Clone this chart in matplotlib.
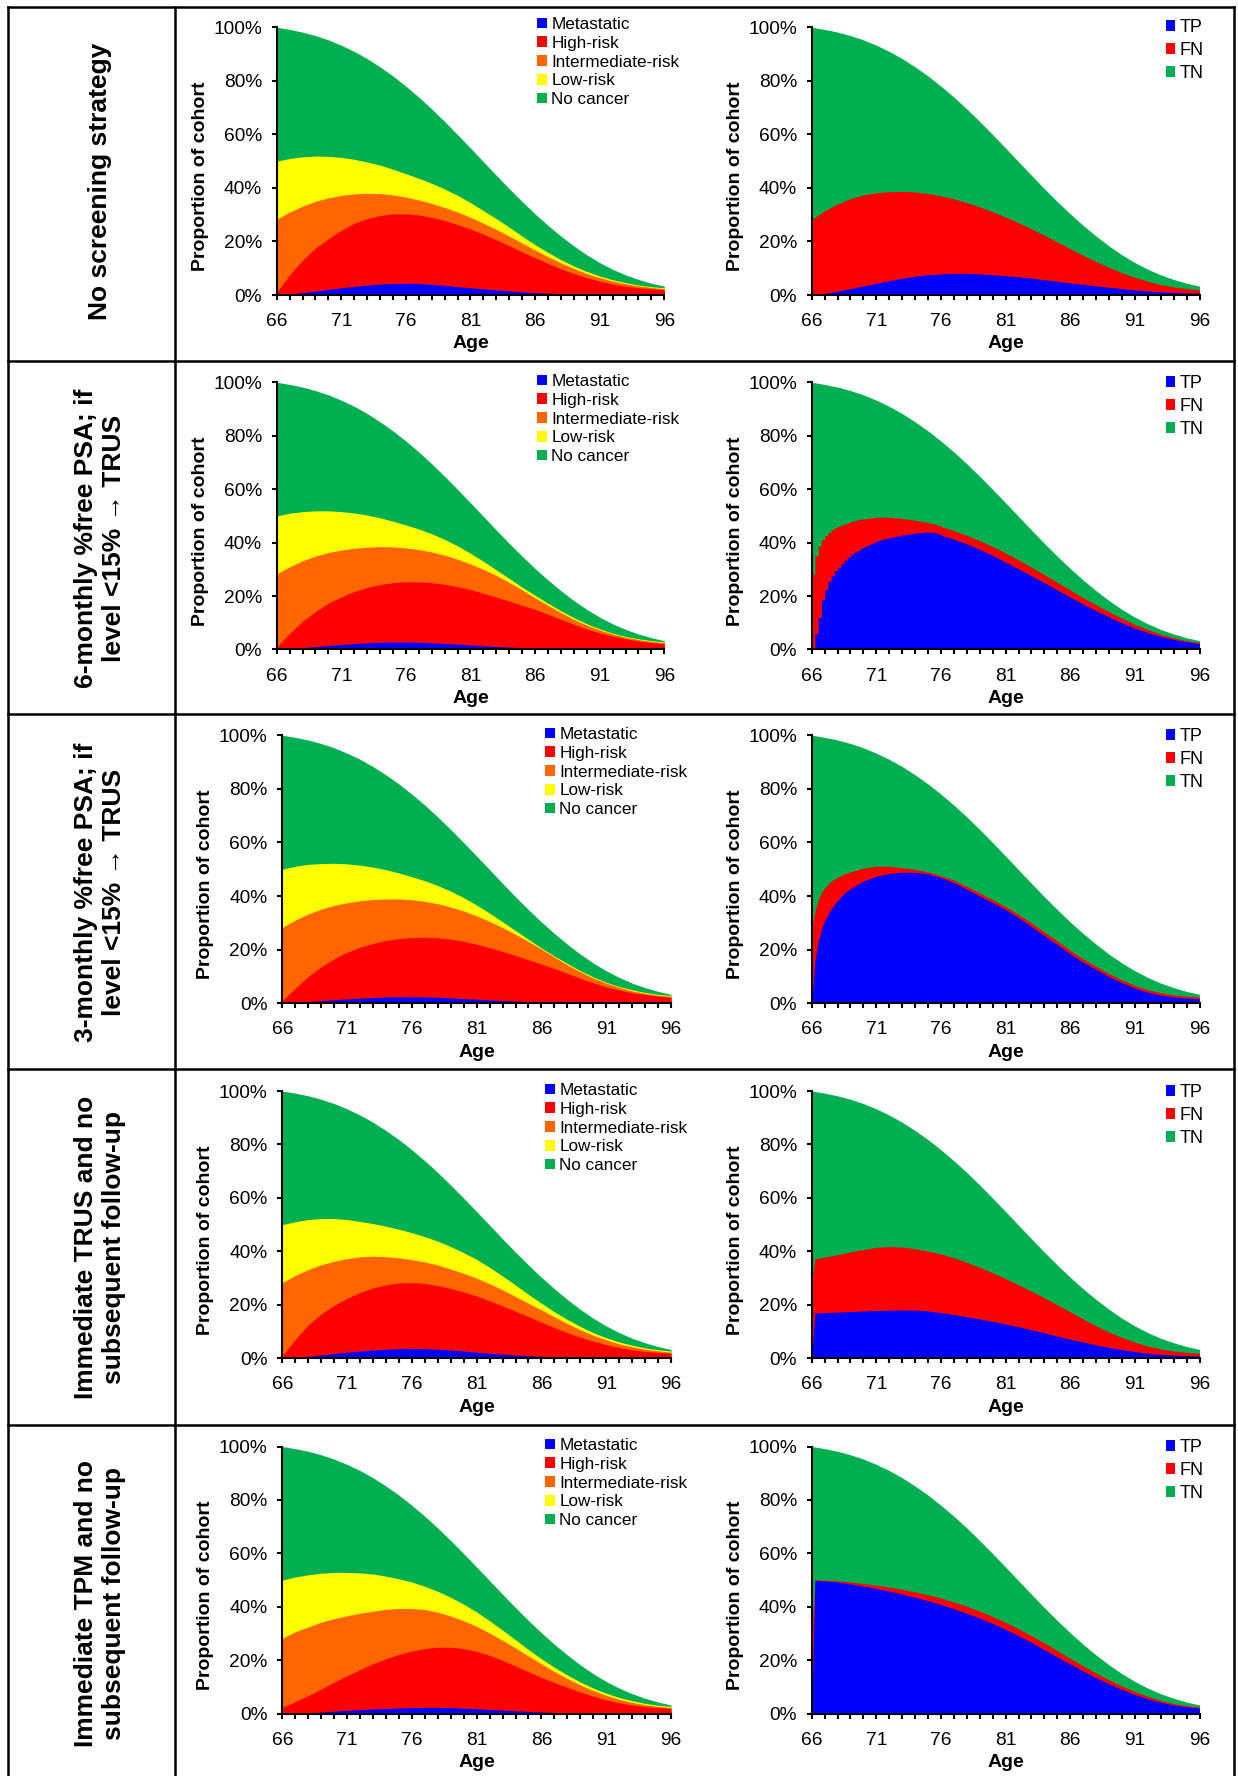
import matplotlib
matplotlib.use('Agg')
import matplotlib.pyplot as plt
from matplotlib.patches import Patch
from matplotlib.ticker import FixedLocator, MultipleLocator
import numpy as np

W, H = 1238, 1776

# ---- data (cumulative proportion of cohort, %) ----
ages = np.arange(66, 97)

alive = [100, 99.2, 98.2, 96.9, 95.3, 93.3, 91.0, 88.3, 85.2, 81.8, 78.0, 73.9, 69.5, 64.8, 59.9,
         54.9, 49.8, 44.7, 39.7, 34.9, 30.3, 26.0, 22.0, 18.3, 15.0, 12.1, 9.6, 7.5, 5.8, 4.4, 3.3]

# row 1: no screening
r1_meta = [0, 0.4, 0.9, 1.5, 2.1, 2.7, 3.2, 3.7, 4.1, 4.3, 4.4, 4.3, 4.0, 3.6, 3.1, 2.7, 2.3, 1.9,
           1.5, 1.2, 0.9, 0.7, 0.5, 0.4, 0.3, 0.2, 0.2, 0.1, 0.1, 0.1, 0.1]
r1_high = [1, 7.5, 13, 17.5, 21, 24.2, 26.8, 28.5, 29.7, 30.3, 30.3, 29.9, 29.0, 27.8, 26.3, 24.6,
           22.7, 20.6, 18.4, 16.1, 13.9, 11.8, 9.8, 8.0, 6.5, 5.2, 4.1, 3.3, 2.7, 2.3, 2.0]
r1_inter = [28.3, 31, 33.2, 35, 36.3, 37.2, 37.8, 38.0, 37.9, 37.4, 36.6, 35.5, 34.2, 32.7, 31.0,
            29.0, 26.8, 24.5, 22.0, 19.4, 16.8, 14.3, 12.0, 9.9, 8.0, 6.5, 5.2, 4.2, 3.4, 2.8, 2.4]
r1_low = [50, 51, 51.6, 51.9, 51.8, 51.4, 50.7, 49.7, 48.5, 47.0, 45.3, 43.6, 41.7, 39.6, 37.2, 34.5,
          31.5, 28.5, 25.3, 22.0, 18.8, 15.9, 13.2, 10.8, 8.8, 7.1, 5.7, 4.6, 3.7, 3.1, 2.7]
r1_tp = [0, 0.6, 1.4, 2.4, 3.4, 4.4, 5.4, 6.3, 7.0, 7.6, 7.9, 8.1, 8.1, 7.9, 7.6, 7.2, 6.8, 6.3, 5.7,
         5.1, 4.5, 4.0, 3.4, 2.9, 2.4, 1.9, 1.5, 1.2, 1.0, 0.8, 0.7]
r1_fn = [28.1, 31.5, 34, 36, 37.4, 38.2, 38.6, 38.7, 38.5, 37.9, 37.0, 35.9, 34.5, 32.9, 31.1, 29.1,
         27.0, 24.7, 22.3, 19.8, 17.3, 14.8, 12.5, 10.3, 8.3, 6.6, 5.1, 3.9, 3.0, 2.4, 1.9]

# row 2: 6-monthly %free PSA
r2_meta = [0, 0.3, 0.7, 1.1, 1.5, 1.9, 2.2, 2.5, 2.7, 2.8, 2.8, 2.7, 2.5, 2.3, 2.0, 1.7, 1.4, 1.1,
           0.9, 0.7, 0.5, 0.4, 0.3, 0.2, 0.2, 0.1, 0.1, 0.1, 0.1, 0.1, 0.1]
r2_high = [1, 6, 10.6, 14.2, 17.3, 19.7, 21.7, 23.2, 24.3, 25.0, 25.3, 25.3, 25.0, 24.4, 23.5, 22.4,
           21.0, 19.6, 18.1, 16.5, 15.0, 13.2, 11.3, 9.4, 7.7, 6.2, 5.0, 4.0, 3.2, 2.6, 2.1]
r2_inter = [28.3, 31, 33.2, 35, 36.3, 37.2, 37.9, 38.3, 38.5, 38.4, 38.0, 37.4, 36.5, 35.3, 33.8,
            32.0, 30.0, 27.7, 25.1, 22.3, 19.3, 16.5, 13.8, 11.3, 9.1, 7.3, 5.8, 4.6, 3.7, 3.0, 2.6]
r2_low = [50, 51, 51.6, 51.9, 51.9, 51.6, 51.1, 50.3, 49.3, 48.0, 46.6, 45.1, 43.3, 41.2, 38.8, 36.0,
          33.0, 29.8, 26.6, 23.3, 20.3, 17.3, 14.5, 11.9, 9.6, 7.7, 6.1, 4.9, 4.0, 3.3, 2.9]
r2_ages_q = np.arange(66, 76.01, 0.25)
r2_tp_q = [0, 6.0, 12.0, 18.8, 22.5, 25.5, 27.6, 29.5, 30.7, 32.2, 33.4, 34.6, 35.7, 36.4, 37.0,
           37.9, 38.5, 39.0, 39.6, 40.2, 40.7, 41.0, 41.4, 41.7, 42.0, 42.2, 42.5, 42.7, 42.9,
           43.1, 43.3, 43.4, 43.6, 43.7, 43.8, 43.9, 43.9, 43.9, 43.6, 43.2, 42.8]
r2_fn_q = [28.2, 35.1, 38.8, 41.2, 42.6, 43.8, 44.9, 45.6, 46.1, 46.6, 47.0, 47.5, 48.0, 48.3, 48.6,
           48.8, 48.9, 49.1, 49.3, 49.4, 49.5, 49.5, 49.5, 49.5, 49.4, 49.3, 49.2, 49.1, 48.9,
           48.8, 48.6, 48.4, 48.2, 48.0, 47.8, 47.6, 47.4, 47.1, 46.8, 46.4, 46.0]
r2_ages_tail = np.arange(76, 97)
r2_tp_tail = [42.8, 41.3, 39.5, 37.5, 35.2, 32.7, 30.2, 27.6, 25.0, 22.3, 19.6, 17.0, 14.5, 12.2,
              10.0, 8.0, 6.3, 4.9, 3.8, 2.9, 2.2]
r2_fn_tail = [46.0, 44.5, 42.7, 40.7, 38.5, 36.1, 33.5, 30.8, 28.0, 25.1, 22.2, 19.4, 16.7, 14.1,
              11.7, 9.4, 7.4, 5.7, 4.4, 3.3, 2.6]

# row 3: 3-monthly %free PSA
r3_meta = [0, 0.25, 0.6, 0.9, 1.3, 1.6, 1.9, 2.1, 2.3, 2.4, 2.4, 2.3, 2.2, 2.0, 1.7, 1.5, 1.2, 1.0,
           0.8, 0.6, 0.5, 0.4, 0.3, 0.2, 0.2, 0.1, 0.1, 0.1, 0.1, 0.1, 0.1]
r3_high = [1, 5.5, 10, 13.6, 16.6, 19.0, 20.9, 22.3, 23.4, 24.1, 24.5, 24.6, 24.4, 23.9, 23.1, 22.0,
           20.7, 19.3, 17.8, 16.2, 14.6, 12.9, 11.1, 9.3, 7.6, 6.1, 4.9, 3.9, 3.2, 2.6, 2.1]
r3_inter = [28.3, 31, 33.3, 35.1, 36.5, 37.5, 38.2, 38.7, 38.9, 38.9, 38.6, 38.0, 37.1, 35.9, 34.4,
            32.6, 30.5, 28.2, 25.7, 23.0, 20.2, 17.2, 14.3, 11.7, 9.4, 7.5, 5.9, 4.6, 3.7, 3.0, 2.6]
r3_low = [50, 51.1, 51.8, 52.1, 52.2, 52.0, 51.5, 50.8, 49.8, 48.6, 47.2, 45.7, 43.9, 41.8, 39.4,
          36.6, 33.6, 30.4, 27.1, 23.8, 20.6, 17.6, 14.8, 12.1, 9.8, 7.8, 6.2, 5.0, 4.0, 3.3, 2.9]
r3_ages_r = [66, 66.25, 66.5, 66.75, 67, 67.5, 68, 68.5, 69] + list(range(70, 97))
r3_tp = [0, 15.6, 23.0, 27.5, 31.0, 35.2, 38.3, 41.0, 42.8, 45.6, 47.4, 48.4, 48.9, 48.8, 48.3,
         46.9, 45.0, 42.6, 40.0, 37.5, 34.9, 31.9, 28.6, 25.2, 21.9, 18.4, 15.3, 12.6, 9.9, 7.7,
         5.6, 4.1, 3.0, 2.3, 1.9, 1.6]
r3_fn = [28.0, 34.2, 38.6, 41.2, 43.0, 45.5, 47.0, 48.2, 49.0, 50.4, 51.1, 51.1, 50.6, 49.9, 49.0,
         47.6, 45.9, 43.6, 41.1, 38.6, 36.0, 33.1, 29.9, 26.5, 23.2, 19.7, 16.5, 13.7, 11.0, 8.7,
         6.6, 5.0, 3.9, 3.1, 2.6, 2.3]

# row 4: immediate TRUS
r4_meta = [0, 0.35, 0.8, 1.3, 1.8, 2.3, 2.7, 3.1, 3.4, 3.6, 3.7, 3.6, 3.4, 3.1, 2.7, 2.3, 1.9, 1.6,
           1.3, 1.0, 0.8, 0.6, 0.4, 0.3, 0.25, 0.2, 0.15, 0.1, 0.1, 0.1, 0.1]
r4_high = [1, 7, 12.5, 16.6, 19.8, 22.4, 24.6, 26.3, 27.5, 28.2, 28.3, 28.0, 27.2, 26.1, 24.8, 23.3,
           21.5, 19.6, 17.6, 15.6, 13.5, 11.5, 9.6, 7.9, 6.4, 5.1, 4.0, 3.2, 2.6, 2.2, 1.9]
r4_inter = [28.3, 31.0, 33.2, 35.0, 36.3, 37.3, 38.0, 38.2, 38.0, 37.6, 36.9, 36.0, 34.9, 33.4, 31.8,
            30.0, 27.9, 25.6, 23.1, 20.6, 18.1, 15.5, 13.0, 10.7, 8.6, 6.9, 5.4, 4.3, 3.4, 2.8, 2.3]
r4_low = [50, 51.1, 51.9, 52.3, 52.3, 51.9, 51.2, 50.4, 49.4, 48.3, 47.0, 45.5, 43.8, 41.8, 39.5,
          37.0, 34.0, 30.8, 27.4, 23.9, 20.6, 17.4, 14.5, 11.9, 9.6, 7.7, 6.1, 4.9, 3.9, 3.2, 2.7]
r4_ages_r = [66, 66.25] + list(range(67, 97))
r4_tp = [0, 17.0, 17.1, 17.3, 17.5, 17.7, 17.9, 18.0, 18.1, 18.0, 17.7, 17.1, 16.4, 15.5, 14.7,
         13.8, 12.8, 11.8, 10.7, 9.5, 8.3, 7.1, 6.1, 5.0, 4.1, 3.2, 2.5, 1.9, 1.5, 1.2, 1.0, 0.9]
r4_fn = [28.0, 37.2, 37.9, 38.8, 39.8, 40.7, 41.5, 41.8, 41.6, 41.0, 40.1, 39.0, 37.6, 35.9, 34.0,
         32.0, 29.8, 27.5, 25.1, 22.6, 20.0, 17.4, 14.7, 12.1, 9.8, 7.8, 6.0, 4.6, 3.5, 2.7, 2.2, 1.9]

# row 5: immediate TPM
r5_meta = [0, 0.2, 0.4, 0.7, 1.0, 1.3, 1.6, 1.8, 2.0, 2.2, 2.3, 2.4, 2.4, 2.3, 2.1, 1.9, 1.6, 1.4,
           1.1, 0.9, 0.7, 0.5, 0.4, 0.3, 0.2, 0.15, 0.1, 0.1, 0.1, 0.1, 0.1]
r5_high = [2.5, 4.5, 6.8, 9.3, 11.8, 14.2, 16.5, 18.7, 20.6, 22.2, 23.5, 24.4, 24.9, 24.9, 24.4,
           23.3, 21.9, 20.0, 17.9, 15.7, 13.6, 11.7, 9.9, 8.2, 6.6, 5.2, 4.1, 3.3, 2.7, 2.3, 2.0]
r5_inter = [28.3, 30.7, 32.5, 34.3, 35.6, 36.7, 37.6, 38.4, 39.1, 39.4, 39.4, 39.0, 38.0, 36.6, 34.8,
            32.7, 30.2, 27.5, 24.6, 21.6, 18.7, 15.8, 13.2, 10.8, 8.7, 6.9, 5.4, 4.3, 3.4, 2.8, 2.4]
r5_low = [50, 51.2, 52.0, 52.6, 52.9, 52.9, 52.7, 52.3, 51.5, 50.5, 49.3, 47.7, 45.8, 43.6, 41.0,
          38.1, 34.8, 31.3, 27.7, 24.0, 20.6, 17.4, 14.5, 11.9, 9.6, 7.7, 6.1, 4.9, 3.9, 3.2, 2.8]
r5_ages_r = [66, 66.25] + list(range(67, 97))
r5_tp = [0, 49.9, 49.7, 49.3, 48.6, 47.8, 46.9, 45.9, 44.8, 43.6, 42.3, 40.9, 39.3, 37.6, 35.8,
         33.8, 31.6, 29.2, 26.7, 24.0, 21.3, 18.6, 16.0, 13.5, 11.2, 9.1, 7.2, 5.6, 4.3, 3.3, 2.6, 2.1]
r5_fn = [28.0, 50.2, 50.0, 49.8, 49.3, 48.7, 48.1, 47.4, 46.6, 45.6, 44.5, 43.3, 41.8, 40.2, 38.4,
         36.4, 34.2, 31.8, 29.2, 26.5, 23.6, 20.7, 17.9, 15.2, 12.7, 10.4, 8.3, 6.5, 5.0, 3.8, 3.0, 2.5]

row_titles = ['No screening strategy',
              '6-monthly %free PSA; if\nlevel <15% \u2192 TRUS',
              '3-monthly %free PSA; if\nlevel <15% \u2192 TRUS',
              'Immediate TRUS and no\nsubsequent follow-up',
              'Immediate TPM and no\nsubsequent follow-up']
stage_labels = ['Metastatic', 'High-risk', 'Intermediate-risk', 'Low-risk', 'No cancer']
test_labels = ['TP', 'FN', 'TN']

left_rows = [(r1_meta, r1_high, r1_inter, r1_low),
             (r2_meta, r2_high, r2_inter, r2_low),
             (r3_meta, r3_high, r3_inter, r3_low),
             (r4_meta, r4_high, r4_inter, r4_low),
             (r5_meta, r5_high, r5_inter, r5_low)]

GREEN, YELLOW, ORANGE, RED, BLUE = '#00B050', '#FFFF00', '#FF6600', '#FF0000', '#0000FF'

# ---- layout (pixels) ----
plt.rcParams['font.family'] = ['Liberation Sans', 'DejaVu Sans']
fig = plt.figure(figsize=(W / 100, H / 100), dpi=100)

left_x = [(276.7, 664.3), (276.7, 664.3), (282.3, 671.0), (282.3, 671.0), (282.3, 671.0)]
right_x = (811.7, 1199.5)
rows_y = [(27.3, 295.0), (382.3, 649.5), (735.2, 1003.2), (1091.0, 1358.3), (1446.5, 1713.8)]
left_leg = [(537, 17), (537, 374), (545, 727), (545, 1083), (545, 1438)]
right_leg = [(1165.5, 19), (1165.5, 375), (1165.5, 728), (1165.5, 1084), (1165.5, 1439)]
title_y = [181, 538, 892, 1247, 1603]


def make_ax(x0, x1, y0, y1):
    return fig.add_axes([x0 / W, 1 - y1 / H, (x1 - x0) / W, (y1 - y0) / H])


def style(ax):
    ax.set_xlim(66, 96)
    ax.set_ylim(0, 100)
    ax.xaxis.set_major_locator(FixedLocator(range(66, 97, 5)))
    ax.xaxis.set_minor_locator(MultipleLocator(1))
    ax.set_yticks(range(0, 101, 20))
    ax.set_yticklabels([f'{v}%' for v in range(0, 101, 20)])
    for s in ('top', 'right'):
        ax.spines[s].set_visible(False)
    for s in ('left', 'bottom'):
        ax.spines[s].set_linewidth(1.5)
    ax.tick_params(axis='both', which='both', direction='out', length=3.6, width=1.5,
                   labelsize=13.8)
    ax.tick_params(axis='x', which='both', pad=9.5)
    ax.tick_params(axis='y', pad=7)
    ax.set_xlabel('Age', fontsize=14, fontweight='bold')
    ax.set_ylabel('Proportion of cohort', fontsize=14, fontweight='bold')
    ax.xaxis.set_label_coords(0.5, -0.151)
    ax.yaxis.set_label_coords(-0.175, 0.443)
    ax.patch.set_alpha(0)


def legend(ax, labels, colors, pos, fs, spacing, hl):
    handles = [Patch(facecolor=c, edgecolor='none') for c in colors]
    ax.legend(handles, labels, loc='upper left',
              bbox_to_anchor=(pos[0] / W, 1 - pos[1] / H), bbox_transform=fig.transFigure,
              frameon=False, fontsize=fs, handlelength=hl, handleheight=hl,
              handletextpad=0.25, labelspacing=spacing, borderpad=0, borderaxespad=0)


def stairs(x, y, x_tail, y_tail):
    # post-step outline for the quarterly part, joined to the yearly tail
    x, y = np.asarray(x), np.asarray(y)
    xs = np.concatenate([np.repeat(x, 2)[1:], np.asarray(x_tail)[1:]])
    ys = np.concatenate([np.repeat(y, 2)[:-1], np.asarray(y_tail)[1:]])
    return xs, ys


for i in range(5):
    y0, y1 = rows_y[i]
    meta, high, inter, low = left_rows[i]

    ax = make_ax(*left_x[i], y0, y1)
    ax.fill_between(ages, 0, alive, color=GREEN, lw=0)
    ax.fill_between(ages, 0, low, color=YELLOW, lw=0)
    ax.fill_between(ages, 0, inter, color=ORANGE, lw=0)
    ax.fill_between(ages, 0, high, color=RED, lw=0)
    ax.fill_between(ages, 0, meta, color=BLUE, lw=0)
    style(ax)
    legend(ax, stage_labels, [BLUE, RED, ORANGE, YELLOW, GREEN], left_leg[i], 12.3, 0.22, 0.58)

    ax = make_ax(*right_x, y0, y1)
    ax.fill_between(ages, 0, alive, color=GREEN, lw=0)
    if i == 0:
        ax.fill_between(ages, 0, r1_fn, color=RED, lw=0)
        ax.fill_between(ages, 0, r1_tp, color=BLUE, lw=0)
    elif i == 1:
        ax.fill_between(*stairs(r2_ages_q, r2_fn_q, r2_ages_tail, r2_fn_tail), color=RED, lw=0)
        ax.fill_between(*stairs(r2_ages_q, r2_tp_q, r2_ages_tail, r2_tp_tail), color=BLUE, lw=0)
    else:
        xr, tp, fn = [(r3_ages_r, r3_tp, r3_fn), (r4_ages_r, r4_tp, r4_fn),
                      (r5_ages_r, r5_tp, r5_fn)][i - 2]
        ax.fill_between(xr, 0, fn, color=RED, lw=0)
        ax.fill_between(xr, 0, tp, color=BLUE, lw=0)
    style(ax)
    legend(ax, test_labels, [BLUE, RED, GREEN], right_leg[i], 13, 0.34, 0.55)

# ---- table frame and row titles ----
bg = fig.add_axes([0, 0, 1, 1], zorder=-1)
bg.set_xlim(0, W)
bg.set_ylim(H, 0)
bg.axis('off')
lw = 1.8
for x in (8, 175, 1234):
    bg.plot([x, x], [7, H], color='black', lw=lw, solid_capstyle='projecting')
for y in (7, 361, 714, 1069, 1425):
    bg.plot([8, 1234], [y, y], color='black', lw=lw, solid_capstyle='projecting')
for t, y in zip(row_titles, title_y):
    bg.text(100, y, t, rotation=90, ha='center', va='center', multialignment='center',
            fontsize=19, fontweight='bold', linespacing=1.2)

fig.savefig('out.png', dpi=100)
